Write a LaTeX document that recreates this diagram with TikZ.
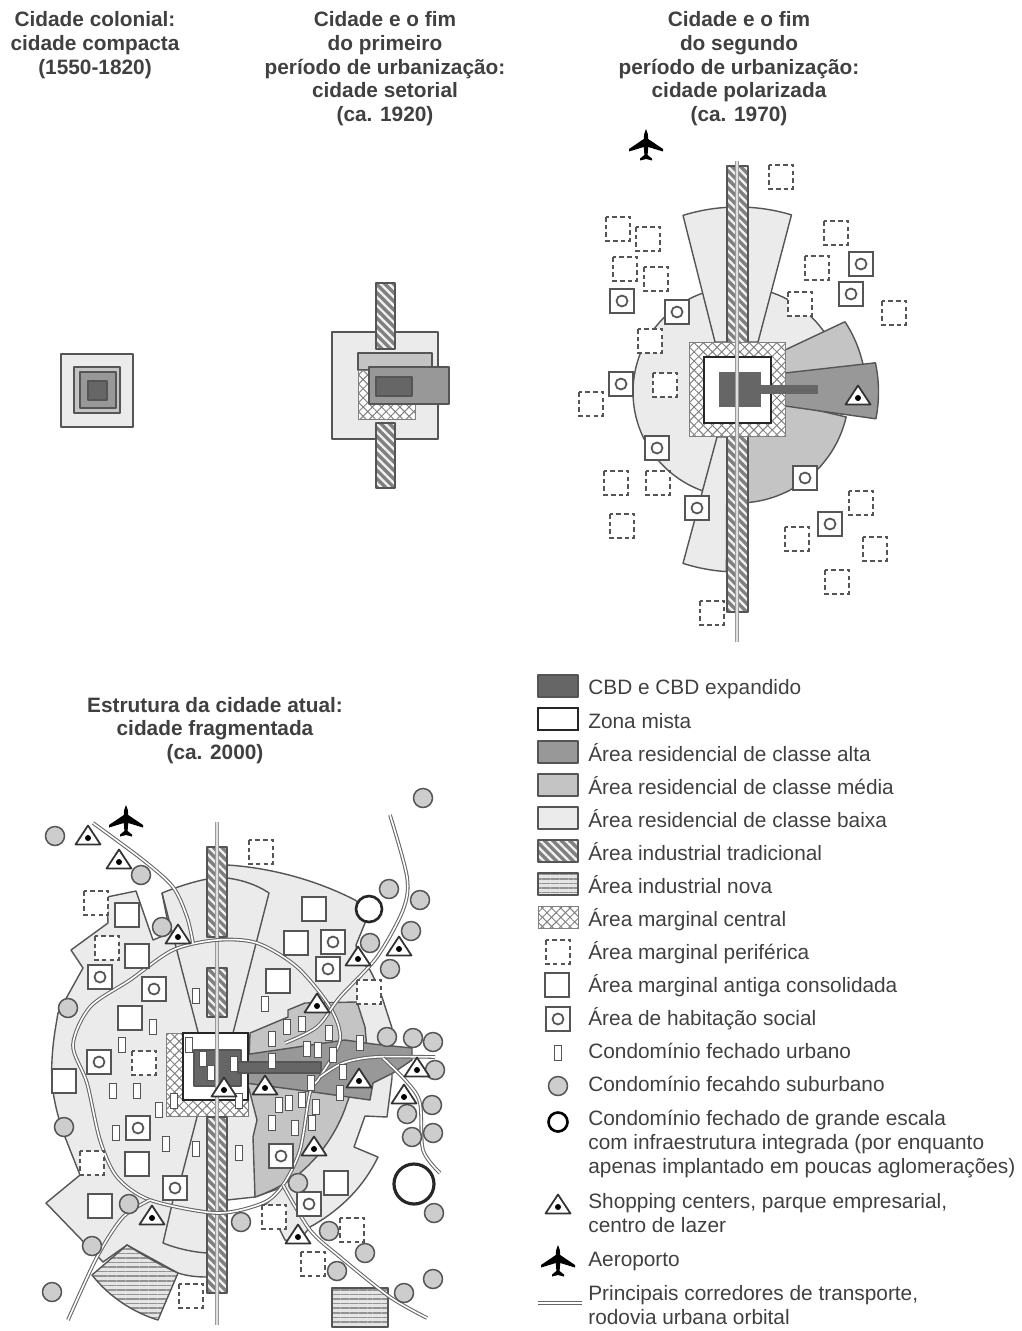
\documentclass[tikz,border=0pt]{standalone}
\usepackage{fontspec}
\setmainfont{Liberation Sans}
\usetikzlibrary{patterns.meta}
\definecolor{cbdgray}{RGB}{102,102,102}
\definecolor{altagray}{RGB}{152,152,152}
\definecolor{mediagray}{RGB}{196,196,196}
\definecolor{baixagray}{RGB}{235,235,235}
\definecolor{linegray}{RGB}{85,85,85}
\definecolor{textgray}{RGB}{64,64,64}
\definecolor{condgray}{RGB}{205,205,205}
\tikzset{
  zone/.style={draw=linegray, line width=0.8pt, line join=round},
  rescbd/.style={zone, fill=cbdgray},
  resalta/.style={zone, fill=altagray},
  resmedia/.style={zone, fill=mediagray},
  resbaixa/.style={zone, fill=baixagray},
  mista/.style={draw=black!85, line width=1.3pt, fill=white},
  indtrad/.style={zone, preaction={fill=gray}, pattern={Lines[angle=-45,distance=3.4pt,line width=1.3pt]}, pattern color=white!90!gray},
  indnova/.style={zone, preaction={fill=gray!20}, pattern={Lines[angle=0,distance=2.6pt,line width=0.9pt]}, pattern color=gray!85},
  margcent/.style={draw=gray, line width=0.5pt, preaction={fill=white}, preaction={pattern={Lines[angle=45,distance=3.7pt,line width=0.55pt]}, pattern color=gray}, pattern={Lines[angle=-45,distance=3.7pt,line width=0.55pt]}, pattern color=gray},
  road/.style={draw=gray!80!black, line width=0.6pt, double=white, double distance=0.9pt},
  mainroad/.style={draw=gray!80, line width=0.65pt, double=gray!25, double distance=1pt},
  title/.style={font=\fontsize{11.85pt}{13.4pt}\selectfont\bfseries, text=textgray, align=center, inner sep=0pt, text depth=0pt},
  legtxt/.style={anchor=west, text=textgray, align=left, inner sep=0pt},
  margper/.pic={\draw[draw=linegray, line width=0.8pt, dash pattern=on 2.6pt off 1.8pt, fill=white] (-12,-12) rectangle (12,12);},
  antiga/.pic={\draw[draw=linegray, line width=0.95pt, fill=white] (-12,-12) rectangle (12,12);},
  habsoc/.pic={\draw[draw=linegray, line width=0.95pt, fill=white] (-12,-12) rectangle (12,12); \draw[draw=linegray, line width=1pt] (0,0) circle (5.5);},
  condurb/.pic={\draw[draw=linegray, line width=0.9pt, fill=white] (-3.7,-7.5) rectangle (3.7,7.5);},
  condsub/.pic={\draw[draw=linegray, line width=0.85pt, fill=condgray] (0,0) circle (9.5);},
  shopping/.pic={\draw[draw=black!80, line width=1pt, line join=round, fill=white] (0,-12.5) -- (12.5,6.5) -- (-12.5,6.5) -- cycle; \fill[black] (0,0) circle (3);},
  aeroporto/.pic={\fill[black] (0,-16) .. controls (1.6,-13) and (2.2,-10) .. (2.2,-6) -- (17,4) -- (17,6.5) -- (2.2,2) -- (1.6,10) -- (6,13.5) -- (6,15.5) -- (0,14) -- (-6,15.5) -- (-6,13.5) -- (-1.6,10) -- (-2.2,2) -- (-17,6.5) -- (-17,4) -- (-2.2,-6) .. controls (-2.2,-10) and (-1.6,-13) .. (0,-16) -- cycle;},
}
\begin{document}
\begin{tikzpicture}[x=0.02cm, y=-0.02cm, font=\fontsize{11.85pt}{13.4pt}\selectfont]
  \useasboundingbox (0,0) rectangle (1021,1331);

  % titulos
  \node[title] (tcolonial) at (95,43) {Cidade colonial:\\cidade compacta\\(1550-1820)};
  \node[title] (tsetorial) at (385,66.5) {Cidade e o fim\\do primeiro\\período de urbanização:\\cidade setorial\\(ca. 1920)};
  \node[title] (tpolar) at (739,66.5) {Cidade e o fim\\do segundo\\período de urbanização:\\cidade polarizada\\(ca. 1970)};
  \node[title] (tfragm) at (215,728) {Estrutura da cidade atual:\\cidade fragmentada\\(ca. 2000)};

  % cidade compacta
  \draw[resbaixa] (61,354) rectangle (133,427);
  \draw[resmedia] (74,367) rectangle (120,413);
  \draw[resalta] (80,372) rectangle (116,408);
  \draw[rescbd] (88,381) rectangle (107,400);

  % cidade setorial
  \draw[resbaixa] (332,332) rectangle (438,439);
  \draw[indtrad] (376,283) rectangle (395,349);
  \draw[indtrad] (376,423) rectangle (395,488);
  \draw[resmedia] (358,353) rectangle (432,370);
  \draw[margcent] (358,370) rectangle (415,419);
  \draw[resalta] (369,367) rectangle (449,404);
  \draw[rescbd] (376,377) rectangle (412,396);

  % cidade polarizada
  \draw[resbaixa] (738,392) circle (105);
  \draw[resmedia] (738,392) -- ([shift={(738,392)}]13:111) arc[start angle=13, end angle=85, radius=111] -- cycle;
  \draw[resbaixa] (715,342) -- ([shift={(738,392)}]-107.3:185) arc[start angle=-107.3, end angle=-73.2, radius=185] -- (758,342) -- cycle;
  \draw[resbaixa] (717,437) -- ([shift={(738,392)}]107.8:180) arc[start angle=107.8, end angle=93.7, radius=180] -- (727,437) -- cycle;
  \draw[resmedia] (785,350) -- ([shift={(738,392)}]-33.3:128) arc[start angle=-33.3, end angle=-11.9, radius=128] -- (785,374) -- cycle;
  \draw[resalta] (785,373) -- ([shift={(738,392)}]-12:140.5) arc[start angle=-12, end angle=11, radius=140.5] -- (785,406) -- cycle;
  \draw[indtrad] (727,166) rectangle (748,612);
  \draw[margcent] (689,342) rectangle (785,436);
  \draw[mista] (704,357) rectangle (771,423);
  \fill[cbdgray] (719,372) rectangle (761,407);
  \fill[cbdgray] (761,385) rectangle (818,394);
  \draw[mainroad] (737,161) -- (737,642);
  \foreach \p in {(618,229),(648,239),(625,269),(656,279),(650,341),(665,385),(591,404),(616,483),(658,483),(622,526),(712,613),(781,177),(836,233),(817,268),(800,304),(894,313),(861,503),(797,539),(875,549),(837,582)}
    \path \p pic {margper};
  \foreach \p in {(861,264),(851,294),(622,301),(677,312),(621,384),(657,448),(805,478),(697,508),(830,524)}
    \path \p pic {habsoc};
  \path (858,398) pic {shopping};
  \path (646,145) pic {aeroporto};

  % cidade fragmentada
  \draw[resbaixa] (227,865) .. controls (275,868) and (320,882) .. (355,900) -- (369,909) -- (365,923) -- (356,945) -- (358,958) -- (370,970) -- (375,980) -- (382,997) -- (392,1028) -- (392,1078) -- (387,1117) -- (365,1116) -- (354,1147) -- (378,1157) .. controls (362,1190) and (337,1212) .. (310,1227) -- (298,1242) -- (285,1240) -- (280,1230) -- (265,1205) -- (283,1187) -- (255,1197) -- (227,1200) -- (207,1200) -- (207,1277) .. controls (197,1277) and (187,1276) .. (178,1273) -- (127,1245) -- (103,1262) -- (46,1203) -- (80,1175) -- (65,1137) .. controls (57,1115) and (50,1090) .. (52,1060) .. controls (53,1040) and (56,1025) .. (58,1013) -- (83,968) -- (71,950) -- (108,923) -- (107,897) -- (136,891) -- (153,940) -- (170,933) -- (162,893) .. controls (177,887) and (192,882) .. (207,879) -- cycle;
  \draw[zone] (227,878) .. controls (243,880) and (257,885) .. (269,893) -- (233,1033);
  \draw[zone] (162,893) -- (198,1032);
  \draw[zone] (197,1117) -- (182,1175);
  \draw[zone] (173,1200) -- (163,1243) .. controls (178,1249) and (193,1252) .. (207,1253);
  \draw[resmedia] (250,1033) -- (288,1017) -- (288,1010) -- (305,1003) -- (357,1002) -- (365,1027) -- (367,1050) -- (347,1103) .. controls (340,1125) and (325,1152) .. (300,1173) .. controls (287,1183) and (270,1192) .. (255,1197) -- (253,1137) -- (257,1120) -- (248,1085) -- cycle;
  \draw[resalta] (243,1055) -- (345,1040) -- (373,1044) -- (412,1048) -- (412,1060) -- (393,1073) -- (373,1083) -- (370,1100) -- (313,1092) -- (245,1083) -- cycle;
  \draw[margcent] (166,1033) rectangle (248,1116);
  \draw[mista] (183,1033) rectangle (248,1100);
  \draw[indtrad] (207,847) rectangle (227,937);
  \draw[indtrad] (207,968) rectangle (227,1017);
  \draw[indtrad] (207,1117) rectangle (227,1293);
  \draw[rescbd] (194,1050) rectangle (241,1086);
  \draw[rescbd] (238,1062) rectangle (321,1073);
  \draw[indnova] (127,1245) .. controls (143,1255) and (160,1265) .. (178,1273) -- (158,1320) .. controls (135,1313) and (110,1298) .. (92,1275) -- cycle;
  \draw[indnova] (332,1288) rectangle (388,1327);
  \draw[mainroad] (217,822) -- (217,1325);
  \draw[road] plot[smooth cycle] coordinates {(217,940) (257,943) (297,967) (330,1007) (340,1040) (320,1077) (310,1093) (300,1150) (283,1185) (263,1203) (217,1213) (150,1200) (117,1177) (100,1140) (87,1083) (73,1045) (90,1007) (130,980) (173,950)};
  \draw[road] plot[smooth] coordinates {(93,823) (143,860) (173,887) (187,917) (193,943)};
  \draw[road] plot[smooth] coordinates {(390,815) (407,877) (403,910) (377,957) (340,997) (317,1027) (285,1043)};
  \draw[road] plot[smooth] coordinates {(435,1057) (375,1057) (343,1063) (320,1077)};
  \draw[road] plot[smooth] coordinates {(383,1058) (407,1082) (420,1103) (423,1150) (440,1173)};
  \draw[road] plot[smooth] coordinates {(283,1185) (310,1230) (340,1257) (390,1297) (427,1318)};
  \draw[road] plot[smooth] coordinates {(150,1200) (123,1217) (97,1257) (68,1320)};
  \foreach \p in {(96,903),(107,948),(261,852),(369,992),(144,1063),(92,1163),(191,1296),(274,1217),(352,1230),(313,1264)}
    \path \p pic {margper};
  \foreach \p in {(127,915),(137,956),(130,1018),(314,909),(296,943),(278,981),(64,1081),(137,1164),(100,1206),(336,1183)}
    \path \p pic {antiga};
  \foreach \p in {(100,977),(154,989),(333,942),(328,969),(99,1062),(138,1128),(175,1188),(281,1156),(309,1204)}
    \path \p pic {habsoc};
  \foreach \p in {(196,996),(265,1004),(153,1027),(122,1045),(189,1045),(203,1059),(211,1073),(234,1064),(113,1091),(137,1091),(159,1110),(174,1101),(239,1101),(116,1133),(166,1144),(196,1149),(239,1153),(272,1039),(287,1027),(302,1024),(329,1033),(360,1043),(272,1061),(307,1049),(318,1050),(333,1055),(343,1072),(311,1083),(340,1093),(302,1100),(316,1107),(279,1105),(289,1103),(272,1123),(295,1128),(312,1123)}
    \path \p pic {condurb};
  \foreach \p in {(55,836),(141,875),(162,927),(68,1008),(423,798),(389,889),(420,900),(411,931),(370,943),(390,969),(387,1037),(413,1038),(433,1042),(435,1070),(432,1105),(407,1114),(433,1133),(412,1137),(434,1213),(298,1183),(241,1222),(329,1231),(365,1253),(337,1271),(433,1279),(404,1293),(64,1127),(129,1204),(92,1246),(52,1292)}
    \path \p pic {condsub};
  \draw[draw=black!85, line width=1.5pt, fill=white] (369,909) circle (13);
  \draw[draw=black!85, line width=1.8pt, fill=white] (414,1184) circle (20);
  \foreach \p in {(88,838),(119,862),(178,937),(358,959),(399,949),(317,1006),(224,1090),(265,1088),(359,1081),(417,1070),(404,1097),(314,1149),(298,1237),(152,1218)}
    \path \p pic {shopping};
  \path (126,821) pic {aeroporto};

  % legenda
  \draw[rescbd] (538,675) rectangle (578,697);
  \draw[mista] (538,708) rectangle (578,730);
  \draw[resalta] (538,741) rectangle (578,763);
  \draw[resmedia] (538,774) rectangle (578,796);
  \draw[resbaixa] (538,807) rectangle (578,829);
  \draw[indtrad] (538,840) rectangle (578,862);
  \draw[indnova] (538,873) rectangle (578,895);
  \draw[margcent] (538,906) rectangle (578,928);
  \path (558,952) pic {margper};
  \path (557,985) pic {antiga};
  \path (558,1019) pic {habsoc};
  \path (558,1053) pic {condurb};
  \path (558,1086) pic {condsub};
  \draw[draw=black, line width=1.5pt] (558,1122) circle (9.5);
  \path (558,1207) pic {shopping};
  \path (558,1261) pic {aeroporto};
  \draw[road] (538,1303) -- (582,1303);
  \node[legtxt] (lcbd) at (588,689) {CBD e CBD expandido};
  \node[legtxt] (lmista) at (588,721) {Zona mista};
  \node[legtxt] (lalta) at (588,753) {Área residencial de classe alta};
  \node[legtxt] (lmedia) at (588,786) {Área residencial de classe média};
  \node[legtxt] (lbaixa) at (588,819) {Área residencial de classe baixa};
  \node[legtxt] (ltrad) at (588,852) {Área industrial tradicional};
  \node[legtxt] (lnova) at (588,885) {Área industrial nova};
  \node[legtxt] (lcent) at (588,920) {Área marginal central};
  \node[legtxt] (lperi) at (588,953) {Área marginal periférica};
  \node[legtxt] (lanti) at (588,986) {Área marginal antiga consolidada};
  \node[legtxt] (lhab) at (588,1019) {Área de habitação social};
  \node[legtxt] (lurb) at (588,1051) {Condomínio fechado urbano};
  \node[legtxt] (lsub) at (588,1084) {Condomínio fecahdo suburbano};
  \node[legtxt] (lgrande) at (588,1144) {Condomínio fechado de grande escala\\com infraestrutura integrada (por enquanto\\apenas implantado em poucas aglomerações)};
  \node[legtxt] (lshop) at (588,1213) {Shopping centers, parque empresarial,\\centro de lazer};
  \node[legtxt] (laero) at (588,1261) {Aeroporto};
  \node[legtxt] (lroad) at (588,1305) {Principais corredores de transporte,\\rodovia urbana orbital};
\end{tikzpicture}
\end{document}
